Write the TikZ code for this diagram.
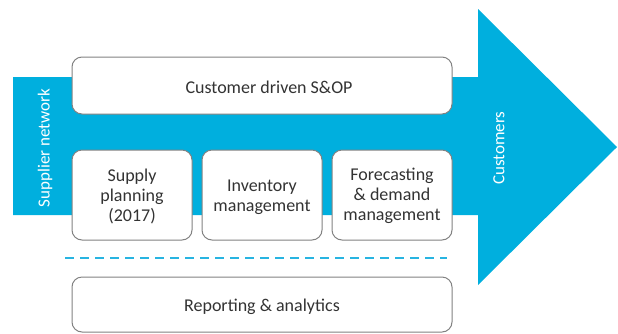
\documentclass[tikz,border=0pt]{standalone}
\usepackage{fontspec}
\setmainfont{Carlito}
\definecolor{arrowblue}{RGB}{0,175,222}
\definecolor{dashblue}{RGB}{40,180,225}
\definecolor{boxgray}{RGB}{130,130,130}
\begin{document}
\begin{tikzpicture}[x=1pt,y=-1pt,
  boxstyle/.style={draw=boxgray,line width=1pt,fill=white,rounded corners=10pt},
  lbl/.style={font=\fontsize{18}{20}\selectfont,text=black!80,align=center},
  sidelbl/.style={font=\fontsize{17}{20}\selectfont,text=white,rotate=90}]
\useasboundingbox (0,0) rectangle (618,333);
\fill[arrowblue] (13,77) -- (478,77) -- (478,9) -- (617,147) -- (478,285) -- (478,215) -- (13,215) -- cycle;
\node[sidelbl] (sup) at (45,148) {Supplier network};
\node[sidelbl] (cus) at (499,148) {Customers};
\draw[boxstyle] (72,57) rectangle (452,114);
\node[lbl] (sop) at (269,87) {Customer driven S\&OP};
\draw[boxstyle] (72,150) rectangle (192,240);
\node[lbl] (sp) at (132,196) {Supply\\planning\\(2017)};
\draw[boxstyle] (202,150) rectangle (322,240);
\node[lbl] (im) at (262,197) {Inventory\\management};
\draw[boxstyle] (332,150) rectangle (452,240);
\node[lbl] (fd) at (392,196) {Forecasting\\\& demand\\management};
\draw[dashblue,line width=2pt,dash pattern=on 9pt off 6pt] (65,258) -- (447,258);
\draw[boxstyle] (72,277) rectangle (452,332);
\node[lbl] (ra) at (262,307) {Reporting \& analytics};
\end{tikzpicture}
\end{document}
